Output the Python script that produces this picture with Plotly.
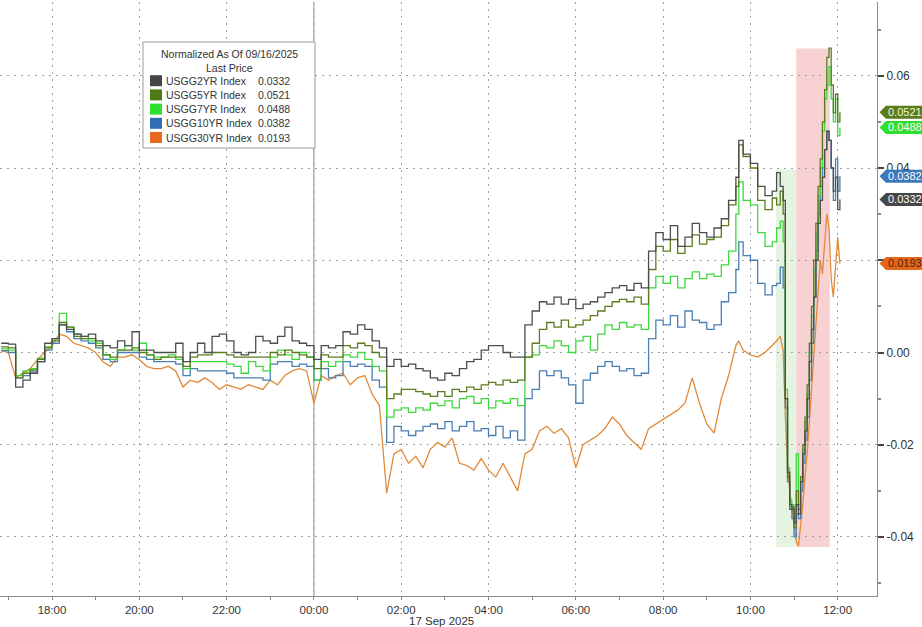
import pandas as pd
import plotly.graph_objects as go

# ---------------- DATA (values in units of 0.001) ----------------
SCALE = 0.001
times_a = list(pd.date_range("2025-09-16 16:50", "2025-09-17 09:40", freq="10min"))
times_b = ["09:44", "09:50", "10:00", "10:10", "10:20", "10:30", "10:36", "10:41", "10:45",
           "10:48", "10:51", "10:54", "10:57", "11:00", "11:03", "11:06", "11:09", "11:12",
           "11:15", "11:18", "11:21", "11:24", "11:27", "11:30", "11:33", "11:36", "11:39",
           "11:42", "11:45", "11:48", "11:51", "11:54", "11:57", "12:00", "12:03"]
times = times_a + [pd.Timestamp("2025-09-17 " + t) for t in times_b]

usgg2yr = [2.0, 1.8, -7.5, -6.0, -4.5, -2.0, 2.0, 3.0, 6.0, 5.0,
           4.0, 3.5, 4.0, 2.5, 1.5, 1.0, 2.5, 1.5, 4.5, 0.5,
           0.5, 0.0, 0.0, 0.0, 2.0, -2.0, 0.0, 2.0, 0.0, 3.5,
           4.0, 2.5, 0.0, -0.5, 0.0, 3.5, 2.5, 2.0, 3.5, 5.5,
           2.5, 2.0, 1.5, -1.5, 1.5, 1.0, 1.5, 4.5, 4.0, 6.0,
           5.0, 2.5, 1.0, -3.0, -1.5, -3.0, -2.5, -3.5, -4.0, -5.5,
           -6.0, -4.5, -5.0, -3.5, -2.0, -1.5, 0.5, 1.5, 1.5, 0.0,
           -1.0, -1.0, 6.0, 9.0, 11.0, 10.5, 12.0, 10.5, 11.5, 9.5,
           10.5, 11.0, 12.0, 13.0, 14.0, 14.5, 13.5, 15.0, 14.0, 22.0,
           26.0, 24.5, 27.5, 23.0, 25.0, 28.0, 26.0, 25.0, 27.0, 29.0,
           33.0, 38.0,
           46.0, 43.0, 41.0, 36.0, 34.0, 35.0, 39.0, 36.0, 33.0,
           -10.0, -26.0, -33.0, -34.0, -37.0, -33.0, -35.0, -28.0, -22.0,
           -17.0, -10.0, -2.0, 5.0, 12.0, 20.0, 28.0, 33.0, 38.0,
           44.0, 48.0, 46.0, 40.0, 35.0, 38.0, 31.0, 33.2]

usgg5yr = [1.2, 1.0, -5.5, -4.5, -3.8, -1.5, 1.0, 2.5, 6.5, 5.5,
           3.5, 3.0, 3.0, 1.5, -0.5, -1.0, 0.5, 0.5, 1.0, 0.0,
           -0.5, -1.5, -1.0, -1.0, -1.0, -3.0, -1.0, -0.5, -0.5, 0.0,
           0.0, -0.5, -1.0, -1.0, -1.0, -1.0, -1.0, 0.0, -0.5, 0.5,
           0.0, -0.5, -1.0, -3.5, -0.5, -1.0, -1.0, 1.5, 1.0, 2.0,
           1.5, 0.0, -1.0, -10.0, -9.0, -8.0, -8.0, -8.5, -9.0, -9.5,
           -8.5, -9.5, -8.0, -8.5, -7.5, -8.0, -7.0, -6.5, -7.0, -6.0,
           -6.5, -6.0, -1.0, 2.0, 5.0, 6.5, 5.5, 7.0, 5.5, 6.0,
           7.0, 8.0, 9.0, 10.0, 11.0, 11.5, 11.0, 12.0, 10.5, 18.0,
           23.0, 22.0, 24.5, 21.5, 23.0, 25.5, 23.5, 24.5, 25.0, 27.5,
           32.0, 36.0,
           45.0, 42.5, 40.0, 33.0, 31.0, 33.5, 32.0, 35.0, 30.0,
           -10.0, -27.0, -34.0, -33.5, -38.0, -30.0, -34.0, -27.0, -20.0,
           -14.0, -7.0, 2.0, 10.0, 20.0, 28.0, 36.0, 42.0, 50.0,
           57.0, 64.0, 66.0, 58.0, 52.0, 56.0, 50.0, 52.1]

usgg7yr = [0.8, 0.5, -5.0, -4.0, -3.5, -1.2, 1.2, 3.0, 8.5, 5.5,
           4.0, 3.5, 2.5, 2.0, -0.5, -1.5, 0.5, 1.5, 0.5, 2.0,
           -0.5, -1.0, -1.0, -0.5, -1.5, -3.5, -2.0, -2.0, -2.0, -2.0,
           -2.0, -2.5, -3.0, -4.5, -2.0, -3.0, -4.0, -1.0, 0.5, -0.5,
           -1.5, 0.0, -1.0, -6.0, -2.0, -3.0, -2.0, -0.5, -1.0, 0.0,
           -1.5, -3.0, -4.0, -14.0, -12.5, -12.0, -13.0, -12.0, -12.5, -11.0,
           -11.5, -10.5, -12.0, -10.0, -9.5, -11.0, -10.0, -12.0, -10.5, -11.0,
           -10.0, -11.5, -1.0, -0.5, 1.5, 1.0, 2.5, 1.5, 0.0, 2.5,
           3.5, 0.5, 4.0, 6.0, 5.0, 6.5, 5.5, 6.0, 5.0, 14.0,
           16.5, 15.0, 16.5, 14.0, 16.0, 17.5, 16.0, 17.0, 16.5, 19.0,
           22.0, 30.0,
           37.0, 33.0, 32.0, 26.0, 23.0, 24.0, 27.0, 28.5, 24.0,
           -8.0, -25.0, -32.0, -33.0, -36.0, -22.0, -33.0, -28.0, -21.0,
           -15.0, -9.0, 0.0, 8.0, 18.0, 26.0, 34.0, 40.0, 48.0,
           55.0, 58.0, 62.0, 55.0, 50.0, 55.0, 47.0, 48.8]

usgg10yr = [0.4, 0.0, -5.5, -5.0, -4.2, -2.0, 0.5, 2.0, 6.0, 4.5,
            3.0, 2.5, 2.0, 1.0, -1.5, -2.0, 0.0, 0.0, 0.0, -1.0,
            -1.5, -2.0, -2.0, -2.0, -2.5, -5.0, -3.5, -4.0, -4.0, -4.0,
            -4.0, -4.5, -5.5, -5.5, -5.5, -5.5, -6.0, -2.5, -2.0, -2.0,
            -3.0, -2.5, -3.0, -6.0, -3.5, -5.5, -5.0, -2.0, -3.0, -2.5,
            -3.0, -6.0, -7.5, -19.5, -16.0, -17.0, -18.0, -17.0, -16.0, -15.5,
            -16.5, -15.0, -17.0, -16.0, -15.0, -17.0, -16.5, -18.0, -16.0, -18.5,
            -17.0, -19.0, -10.0, -8.0, -4.0, -5.0, -4.0, -5.5, -7.0, -11.0,
            -6.0, -4.5, -3.0, -2.0, -3.0, -4.0, -3.5, -5.0, -4.5, 3.0,
            7.0, 6.0, 8.0, 5.5, 9.0, 7.0, 6.5, 5.0, 6.0, 11.0,
            13.0, 18.0,
            24.0, 21.0, 20.0, 15.0, 12.5, 14.5, 15.0, 18.5, 14.0,
            -12.0, -28.0, -34.0, -36.0, -40.0, -35.0, -36.0, -30.0, -24.0,
            -19.0, -14.0, -6.0, 2.0, 12.0, 22.0, 30.0, 36.0, 40.0,
            44.0, 48.0, 46.0, 40.0, 33.0, 42.0, 35.0, 38.2]

usgg30yr = [0.4, 0.0, -5.5, -4.5, -3.5, -1.5, 0.0, 1.5, 4.0, 3.5,
            2.0, 1.5, 1.0, 0.0, -2.0, -3.0, -1.0, -1.0, -0.5, -1.5,
            -3.0, -3.5, -3.5, -3.0, -4.0, -7.5, -6.0, -6.5, -5.5, -6.5,
            -8.0, -7.0, -7.5, -8.0, -7.0, -7.5, -8.0, -6.0, -7.0, -5.0,
            -4.0, -3.5, -4.0, -11.0, -5.0, -6.0, -5.0, -4.5, -7.0, -5.5,
            -5.0, -9.0, -11.5, -30.5, -22.0, -21.0, -24.0, -22.5, -25.0, -21.0,
            -19.5, -20.5, -18.5, -24.0, -24.5, -25.5, -23.0, -25.5, -27.0, -24.0,
            -27.0, -30.0, -22.0, -21.0, -17.0, -16.0, -17.5, -16.5, -18.5, -25.0,
            -20.0, -19.0, -18.0, -16.5, -14.0, -15.5, -18.0, -19.5, -21.0, -16.5,
            -15.5, -14.5, -13.5, -12.5, -11.0, -5.5, -11.0, -15.5, -17.5, -10.0,
            -5.0, 1.5,
            2.5, 0.5, -0.5, -1.0, 0.0, 1.5, 2.5, 3.5, 0.5,
            -14.0, -24.0, -30.0, -34.0, -37.0, -41.0, -42.0, -38.0, -33.0,
            -27.0, -22.0, -15.0, -8.0, 0.0, 6.0, 14.0, 20.0, 17.0,
            24.0, 30.0, 27.0, 16.0, 12.0, 18.0, 25.0, 19.3]

series_names = ["USGG2YR Index", "USGG5YR Index", "USGG7YR Index", "USGG10YR Index", "USGG30YR Index"]
series_values = [usgg2yr, usgg5yr, usgg7yr, usgg10yr, usgg30yr]
line_colors = ["#4d4d4d", "#5b7c1e", "#3fd83f", "#4a7fb3", "#e08a3a"]
swatch_colors = ["#454545", "#4e7a16", "#2de02d", "#2f6db5", "#e8691d"]
tag_colors = ["#474747", "#5a7d1a", "#30de30", "#3a78bb", "#e2671a"]
tag_text_colors = ["#ffffff", "#f4f4dc", "#ffffff", "#ffffff", "#5a2400"]
legend_title = "Normalized As Of 09/16/2025"
legend_sub = "Last Price"
date_label = "17 Sep 2025"
y_ticks = [-0.04, -0.02, 0.0, 0.02, 0.04, 0.06]
y_ticktext = ["-0.04", "-0.02", "0.00", "", "0.04", "0.06"]   # 0.02 sits hidden behind the 30YR tag
green_zone = ("2025-09-17 10:35", "2025-09-17 11:03", -0.0422, 0.0397)
red_zone = ("2025-09-17 11:03", "2025-09-17 11:49", -0.0422, 0.0659)

# ---------------- FIGURE ----------------
W, H = 922, 627
ML, MR, MT, MB = 0, 45, 2, 31
PW, PH = W - ML - MR, H - MT - MB
Y0, Y1 = -0.0528, 0.0760


def px(x):
    return (x - ML) / PW


def py(y):
    return (H - MB - y) / PH


fig = go.Figure()
order = [4, 3, 2, 1, 0]
for k in order:
    fig.add_trace(go.Scatter(
        x=times, y=[v * SCALE for v in series_values[k]], mode="lines",
        name=series_names[k], hoverinfo="skip",
        line=dict(color=line_colors[k], width=1.3, shape="linear" if k == 4 else "hv"),
    ))

shapes = []
shapes.append(dict(type="rect", xref="x", yref="y", x0=green_zone[0], x1=green_zone[1],
                   y0=green_zone[2], y1=green_zone[3], fillcolor="#e5f3e1", line=dict(width=0), layer="below"))
shapes.append(dict(type="rect", xref="x", yref="y", x0=red_zone[0], x1=red_zone[1],
                   y0=red_zone[2], y1=red_zone[3], fillcolor="#f8d2d2", line=dict(width=0), layer="below"))
shapes.append(dict(type="line", xref="x", yref="paper", x0="2025-09-17 00:00", x1="2025-09-17 00:00",
                   y0=0, y1=1, line=dict(color="#8c8c8c", width=1), layer="below"))

annotations = []
shapes.append(dict(type="rect", xref="paper", yref="paper", x0=px(143), x1=px(315), y0=py(148), y1=py(42),
                   fillcolor="white", line=dict(color="#9a9a9a", width=1), layer="above"))
annotations.append(dict(text=legend_title, xref="paper", yref="paper", x=px(229), y=py(54),
                        showarrow=False, xanchor="center", yanchor="middle",
                        font=dict(size=10.5, color="#333")))
annotations.append(dict(text=legend_sub, xref="paper", yref="paper", x=px(229), y=py(67.5),
                        showarrow=False, xanchor="center", yanchor="middle",
                        font=dict(size=10.5, color="#333")))
row_y = [80.7, 94.9, 109.1, 123.3, 137.5]
for k in range(5):
    cy = row_y[k]
    shapes.append(dict(type="rect", xref="paper", yref="paper", x0=px(150), x1=px(162),
                       y0=py(cy + 5.5), y1=py(cy - 5.5), fillcolor=swatch_colors[k],
                       line=dict(width=0), layer="above"))
    annotations.append(dict(text=series_names[k], xref="paper", yref="paper", x=px(164), y=py(cy),
                            showarrow=False, xanchor="left", yanchor="middle",
                            font=dict(size=10.5, color="#333")))
    annotations.append(dict(text=f"{series_values[k][-1] * SCALE:.4f}", xref="paper", yref="paper",
                            x=px(256), y=py(cy), showarrow=False, xanchor="left", yanchor="middle",
                            font=dict(size=10.5, color="#333")))

half = 6.5 * (Y1 - Y0) / PH
xt, xb, xe = px(879.5), px(886), px(924)
for k in range(5):
    v = series_values[k][-1] * SCALE
    path = (f"M {xt},{v} L {xb},{v + half} L {xe},{v + half} "
            f"L {xe},{v - half} L {xb},{v - half} Z")
    shapes.append(dict(type="path", xref="paper", yref="y", path=path,
                       fillcolor=tag_colors[k], line=dict(width=0), layer="above"))
    annotations.append(dict(text=f"{v:.4f}", xref="paper", yref="y", x=px(886), y=v,
                            showarrow=False, xanchor="left", yanchor="middle",
                            font=dict(size=11, color=tag_text_colors[k])))

annotations.append(dict(text=date_label, xref="paper", yref="paper", x=px(441), y=py(621),
                        showarrow=False, xanchor="center", yanchor="middle",
                        font=dict(size=11.5, color="#333")))

fig.update_layout(
    width=W, height=H,
    margin=dict(l=ML, r=MR, t=MT, b=MB, pad=0),
    paper_bgcolor="white", plot_bgcolor="white",
    showlegend=False,
    hovermode=False,
    font=dict(family="Liberation Sans, Arial, sans-serif", size=12, color="#333"),
    shapes=shapes,
    annotations=annotations,
    xaxis=dict(
        type="date",
        range=["2025-09-16 16:48:30", "2025-09-17 12:54"],
        tick0="2025-09-16 18:00", dtick=7200000, tickformat="%H:%M",
        showgrid=True, gridcolor="#a0a0a0", griddash="2px,5px", gridwidth=1,
        showline=True, linecolor="#8c8c8c", linewidth=1,
        ticks="outside", ticklen=3, tickcolor="#8c8c8c",
        minor=dict(dtick=3600000, tick0="2025-09-16 17:00", ticks="outside", ticklen=3,
                   tickcolor="#8c8c8c", showgrid=False),
        zeroline=False,
        tickfont=dict(size=11.5, color="#333"),
    ),
    yaxis=dict(
        side="right",
        range=[Y0, Y1],
        tickvals=y_ticks, ticktext=y_ticktext,
        showgrid=True, gridcolor="#a0a0a0", griddash="2px,5px", gridwidth=1,
        showline=True, linecolor="#8c8c8c", linewidth=1,
        ticks="outside", ticklen=6, tickwidth=2, tickcolor="#444",
        minor=dict(tickvals=[-0.05, -0.03, -0.01, 0.01, 0.03, 0.05, 0.07], ticks="outside",
                   ticklen=3, tickcolor="#8c8c8c", showgrid=False),
        zeroline=False,
        tickfont=dict(size=12, color="#333"),
    ),
)

fig.write_html("out.html", config={"displayModeBar": False, "staticPlot": True},
               post_script="document.body.style.margin='0px';document.body.style.overflow='hidden';")
